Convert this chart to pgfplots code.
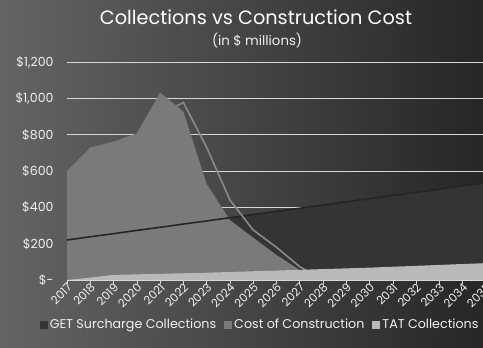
\documentclass[border=0pt]{standalone}
\usepackage{pgfplots}
\pgfplotsset{compat=1.18}
\usepackage{fontspec}
\setmainfont{Poppins}
\definecolor{bgL}{RGB}{100,100,100}
\definecolor{bgR}{RGB}{38,38,38}
\definecolor{getc}{RGB}{52,52,52}
\definecolor{getline}{RGB}{36,36,36}
\definecolor{costc}{RGB}{122,122,122}
\definecolor{costline}{RGB}{138,138,138}
\definecolor{tatc}{RGB}{185,185,185}
\definecolor{gridc}{RGB}{215,215,215}
\definecolor{txt}{RGB}{240,240,240}
\begin{document}
\begin{tikzpicture}[x=1pt,y=1pt]
\clip (0,0) rectangle (483,348);
\shade[left color=bgL, right color=bgR] (0,0) rectangle (483,348);
\begin{axis}[
  at={(67pt,68pt)}, anchor=south west,
  scale only axis, width=419pt, height=218pt,
  xmin=2017, xmax=2035, ymin=0, ymax=1200,
  axis x line*=bottom, axis y line*=left,
  y axis line style={draw=none},
  x axis line style={color=gridc, line width=0.8pt},
  xtick={2017,...,2035},
  xtick align=outside, major tick length=4pt,
  xtick style={color=gridc, line width=0.6pt},
  ytick={0,200,...,1200},
  ytick style={draw=none},
  yticklabels={\$-\hspace{7pt},\$200,\$400,\$600,\$800,{\$1,000},{\$1,200}},
  ymajorgrids, major grid style={color=gridc, line width=0.8pt},
  /pgf/number format/assume math mode=true,
  xticklabel style={/pgf/number format/1000 sep=, rotate=45, anchor=east, font=\fontsize{11.5}{12}\selectfont, text=txt, inner sep=1pt, yshift=-3pt, xshift=2pt},
  yticklabel style={anchor=east, xshift=-10pt, font=\fontsize{12.5}{13}\selectfont, text=txt},
  legend columns=3,
  legend style={at={(0.461,-0.205)}, anchor=center, draw=none, fill=none, text=txt,
    font=\fontsize{12.7}{14}\selectfont, inner sep=0pt,
    /tikz/every even column/.append style={column sep=6pt}},
  legend image code/.code={\fill[#1] (0pt,-4pt) rectangle (8pt,4pt);},
]
\addplot[fill=getc, draw=none] coordinates {
(2017,220)(2018,238)(2019,255)(2020,273)(2021,290)(2022,308)(2023,325)(2024,343)(2025,360)(2026,378)(2027,395)(2028,413)(2029,430)(2030,448)(2031,465)(2032,483)(2033,500)(2034,518)(2035,535)
} \closedcycle;
\addlegendentry{GET Surcharge Collections}
\addplot[fill=costc, draw=none] coordinates {
(2017,600)(2018,729)(2019,762)(2020,808)(2021,1032)(2022,927)(2023,529)(2024,330)(2025,233)(2026,138)(2027,55)(2028,0)(2035,0)
} \closedcycle;
\addlegendentry{Cost of Construction}
\addplot[getline, line width=1.6pt, forget plot] coordinates {
(2017,220)(2018,238)(2019,255)(2020,273)(2021,290)(2022,308)(2023,325)(2024,343)(2025,360)(2026,378)(2027,395)(2028,413)(2029,430)(2030,448)(2031,465)(2032,483)(2033,500)(2034,518)(2035,535)
};
\addplot[costline, line width=1.6pt, forget plot] coordinates {
(2021.7,958)(2022,977)(2023,730)(2024,440)(2025,275)(2026,180)(2027,73)(2028,0)(2035,0)
};
\addplot[fill=tatc, draw=none] coordinates {
(2017,0)(2018,13)(2019,28)(2020,31)(2021,34)(2022,37)(2023,40)(2024,44)(2025,48)(2026,52)(2027,56)(2028,60)(2029,64)(2030,68)(2031,73)(2032,78)(2033,83)(2034,88)(2035,93)
} \closedcycle;
\addlegendentry{TAT Collections}
\end{axis}
\node[anchor=base, text=white, font=\fontsize{19.3}{21}\selectfont] at (256,323) {Collections vs Construction Cost};
\node[anchor=base, text=txt, font=\fontsize{13.3}{14}\selectfont] at (257,302) {(in \$ millions)};
\end{tikzpicture}
\end{document}
